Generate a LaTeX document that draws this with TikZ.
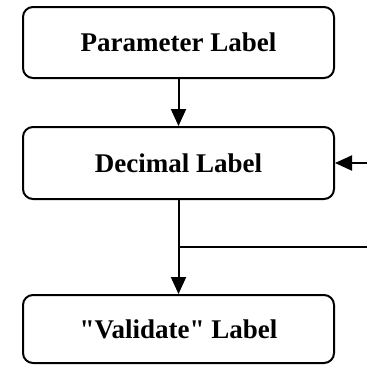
\documentclass[tikz,border=0pt]{standalone}
\usepackage{fontspec}
\newfontfamily\boxfont{Liberation Serif}
\usetikzlibrary{arrows.meta}

\begin{document}
\begin{tikzpicture}[x=1pt, y=-1pt,
  labelbox/.style={draw, line width=2pt, rounded corners=10pt, minimum width=311pt, inner sep=0pt, font=\boxfont\bfseries\fontsize{27}{32}\selectfont},
  flow/.style={line width=2pt, -{Triangle[length=17pt,width=15pt]}}]
\useasboundingbox (0,0) rectangle (367,365);
% Cajas
\node[labelbox, minimum height=71pt] (param) at (178.5,42.5) {Parameter Label};
\node[labelbox, minimum height=72pt] (decimal) at (178.5,163) {Decimal Label};
\node[labelbox, minimum height=68pt] (validate) at (178.5,329) {"Validate" Label};
% Puntos auxiliares
\coordinate (branch) at (179,247);
\coordinate (branchend) at (367,247);
\coordinate (backin) at (367,163);
% Flechas
\draw[flow] (param) -- (decimal); % de arriba a la segunda caja
\draw[flow] (decimal) -- (validate);
\draw[line width=2pt] (branch) -- (branchend); % salida lateral
\draw[flow] (backin) -- (decimal.east); % entrada por la derecha
\end{tikzpicture}
\end{document}
